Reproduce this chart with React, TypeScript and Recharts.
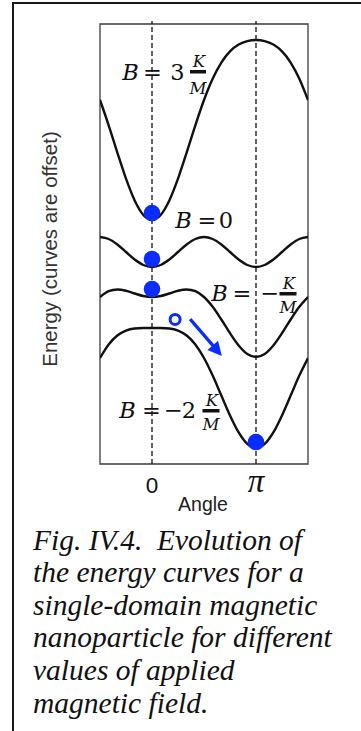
import React from 'react';
import {
  ComposedChart,
  Line,
  XAxis,
  YAxis,
  ReferenceLine,
  ReferenceDot,
  ReferenceArea,
  Customized,
} from 'recharts';

// Angle samples (degrees) from -π/2 to 3π/2
const angles = [-90, -75, -60, -45, -30, -15, 0, 15, 30, 45, 60, 75, 90, 105, 120, 135, 150, 165, 180, 195, 210, 225, 240, 255, 270];

// Energies (units of K), before offsetting
const energyB3 = [1, 0.157, -0.75, -1.621, -2.348, -2.831, -3, -2.831, -2.348, -1.621, -0.75, 0.157, 1, 1.709, 2.25, 2.621, 2.848, 2.965, 3, 2.965, 2.848, 2.621, 2.25, 1.709, 1];
const energyB0 = [1, 0.933, 0.75, 0.5, 0.25, 0.067, 0, 0.067, 0.25, 0.5, 0.75, 0.933, 1, 0.933, 0.75, 0.5, 0.25, 0.067, 0, 0.067, 0.25, 0.5, 0.75, 0.933, 1];
const energyBm1 = [1, 1.192, 1.25, 1.207, 1.116, 1.033, 1, 1.033, 1.116, 1.207, 1.25, 1.192, 1, 0.674, 0.25, -0.207, -0.616, -0.899, -1, -0.899, -0.616, -0.207, 0.25, 0.674, 1];
const energyBm2 = [1, 1.451, 1.75, 1.914, 1.982, 1.999, 2, 1.999, 1.982, 1.914, 1.75, 1.451, 1, 0.415, -0.25, -0.914, -1.482, -1.865, -2, -1.865, -1.482, -0.914, -0.25, 0.415, 1];

// vertical offsets of each curve
const offsetB3 = 11.133;
const offsetB0 = 6.567;
const offsetBm1 = 4.567;
const offsetBm2 = 2.533;

// resting particles (filled dots)
const restAngles = [0, 0, 0, 180];
const restValues = [8.367, 6.833, 5.833, 0.733];

// open circle and arrow
const openAngle = 40;
const openValue = 4.82;
const arrowAngles = [66, 121];
const arrowValues = [4.83, 3.6];

const xTicks = [0, 180];
const xTickLabels = ['0', 'π'];
const yDomain = [0, 14.667];

const data = angles.map((a, i) => ({
  angle: a,
  b3: energyB3[i] + offsetB3,
  b0: energyB0[i] + offsetB0,
  bm1: energyBm1[i] + offsetBm1,
  bm2: energyBm2[i] + offsetBm2,
}));

const BLUE = '#0a2cff';
const SANS = '"Liberation Sans", Arial, sans-serif';
const MATH = '"DejaVu Serif", serif';
const TIMES = '"Liberation Serif", "Times New Roman", serif';

const XTick = (props: any) => {
  const { x, payload } = props;
  const idx = xTicks.indexOf(payload.value);
  const label = xTickLabels[idx];
  if (label === 'π') {
    return (
      <text x={x} y={492} textAnchor="middle" fontFamily={TIMES} fontStyle="italic" fontSize={33} fill="#111">
        {label}
      </text>
    );
  }
  return (
    <text x={x} y={493} textAnchor="middle" fontFamily={SANS} fontSize={22.5} fill="#111">
      {label}
    </text>
  );
};

const ArrowShape = (props: any) => {
  const { x1, y1, x2, y2 } = props;
  const dx = x2 - x1;
  const dy = y2 - y1;
  const len = Math.sqrt(dx * dx + dy * dy);
  const ux = dx / len;
  const uy = dy / len;
  const headLen = 14;
  const headW = 7;
  const bx = x2 - ux * headLen;
  const by = y2 - uy * headLen;
  const px = -uy;
  const py = ux;
  return (
    <g>
      <line x1={x1} y1={y1} x2={bx + ux * 2} y2={by + uy * 2} stroke={BLUE} strokeWidth={3.2} />
      <polygon
        points={`${x2},${y2} ${bx + px * headW},${by + py * headW} ${bx - px * headW},${by - py * headW}`}
        fill={BLUE}
      />
    </g>
  );
};

const Frac = ({ cx, bar, kBase, mBase, w }: any) => (
  <g>
    <text x={cx + 1} y={kBase} textAnchor="middle" fontFamily={MATH} fontStyle="italic" fontSize={16.5} fill="#111">K</text>
    <rect x={cx - w / 2} y={bar} width={w} height={3.5} fill="#111" />
    <text x={cx} y={mBase} textAnchor="middle" fontFamily={MATH} fontStyle="italic" fontSize={16.5} fill="#111">M</text>
  </g>
);

const T = ({ x, y, children, italic, size }: any) => (
  <text x={x} y={y} textAnchor="middle" fontFamily={MATH} fontStyle={italic ? 'italic' : 'normal'} fontSize={size || 22.5} fill="#111">
    {children}
  </text>
);

const Annotations = () => (
  <g>
    {/* B = 3 K/M */}
    <T x={130.5} y={80} italic>B</T>
    <T x={152.5} y={80}>=</T>
    <T x={177.5} y={80}>3</T>
    <Frac cx={198} bar={70} kBase={67} mBase={94} w={16} />
    {/* B = 0 */}
    <T x={183.5} y={228} italic>B</T>
    <T x={207} y={228}>=</T>
    <T x={226} y={228}>0</T>
    {/* B = - K/M */}
    <T x={219.5} y={301} italic>B</T>
    <T x={242} y={301}>=</T>
    <T x={270} y={301}>−</T>
    <Frac cx={288} bar={292} kBase={289} mBase={313} w={17} />
    {/* B = -2 K/M */}
    <T x={127.5} y={418} italic>B</T>
    <T x={151.5} y={418}>=</T>
    <T x={173.5} y={418}>−</T>
    <T x={189} y={418}>2</T>
    <Frac cx={211} bar={409} kBase={406} mBase={430} w={17} />
    {/* axis labels */}
    <text x={203} y={511} textAnchor="middle" fontFamily={SANS} fontSize={19.5} fill="#222">Angle</text>
    <text
      x={57}
      y={249}
      transform="rotate(-90, 57, 249)"
      textAnchor="middle"
      fontFamily={SANS}
      fontSize={20.5}
      fill="#333"
    >
      Energy (curves are offset)
    </text>
  </g>
);

const captionLines = [
  'Fig. IV.4.  Evolution of',
  'the energy curves for a',
  'single-domain magnetic',
  'nanoparticle for different',
  'values of applied',
  'magnetic field.',
];

export default function App() {
  return (
    <div style={{ position: 'absolute', left: 0, top: 0, width: 361, height: 731, overflow: 'hidden', background: '#fff' }}>
      <div
        style={{
          position: 'absolute',
          left: 12,
          top: 2,
          width: 420,
          height: 800,
          border: '2px solid #1a1a1a',
          boxSizing: 'border-box',
        }}
      />
      <div style={{ position: 'absolute', left: 0, top: 0 }}>
        <ComposedChart width={361} height={520} data={data} margin={{ top: 24, right: 53, bottom: 16, left: 100 }}>
          <XAxis
            type="number"
            dataKey="angle"
            domain={[-90, 270]}
            ticks={xTicks}
            tick={<XTick />}
            axisLine={false}
            tickLine={false}
            height={40}
            allowDataOverflow
          />
          <YAxis type="number" domain={yDomain} hide allowDataOverflow />
          <ReferenceArea x1={-90} x2={270} y1={yDomain[0]} y2={yDomain[1]} fill="none" stroke="#3a3a3a" strokeWidth={1.3} />
          <ReferenceLine
            segment={[{ x: xTicks[0], y: 0 }, { x: xTicks[0], y: 14.77 }]}
            stroke="#111"
            strokeWidth={1.3}
            strokeDasharray="5 3"
            ifOverflow="visible"
          />
          <ReferenceLine
            segment={[{ x: xTicks[1], y: 0 }, { x: xTicks[1], y: 14.77 }]}
            stroke="#111"
            strokeWidth={1.3}
            strokeDasharray="5 3"
            ifOverflow="visible"
          />
          <Line type="monotone" dataKey="b3" stroke="#111" strokeWidth={2.4} dot={false} isAnimationActive={false} />
          <Line type="monotone" dataKey="b0" stroke="#111" strokeWidth={2.4} dot={false} isAnimationActive={false} />
          <Line type="monotone" dataKey="bm1" stroke="#111" strokeWidth={2.4} dot={false} isAnimationActive={false} />
          <Line type="monotone" dataKey="bm2" stroke="#111" strokeWidth={2.4} dot={false} isAnimationActive={false} />
          {restAngles.map((a, i) => (
            <ReferenceDot key={i} x={a} y={restValues[i]} r={8.3} fill={BLUE} stroke="none" />
          ))}
          <ReferenceDot x={openAngle} y={openValue} r={5} fill="#fff" stroke={BLUE} strokeWidth={3} />
          <ReferenceLine
            segment={[{ x: arrowAngles[0], y: arrowValues[0] }, { x: arrowAngles[1], y: arrowValues[1] }]}
            shape={<ArrowShape />}
            ifOverflow="visible"
          />
          <Customized component={<Annotations />} />
        </ComposedChart>
      </div>
      <div
        style={{
          position: 'absolute',
          left: 33,
          top: 523.7,
          fontFamily: TIMES,
          fontStyle: 'italic',
          fontSize: 29.5,
          lineHeight: '32.6px',
          color: '#111',
          whiteSpace: 'pre',
        }}
      >
        {captionLines.map((l, i) => (
          <div key={i}>{l}</div>
        ))}
      </div>
    </div>
  );
}
